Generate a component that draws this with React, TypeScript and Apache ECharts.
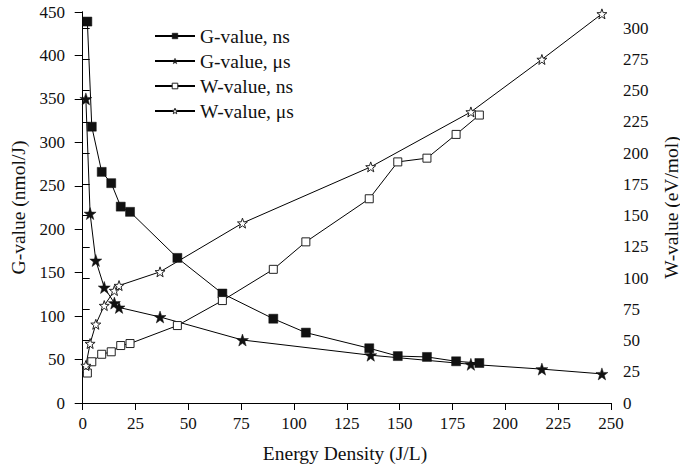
import React, { useEffect, useRef } from "react";
import * as echarts from "echarts";

// Energy density (J/L) for nanosecond and microsecond pulses
const xNs = [2.2, 4.3, 9.0, 13.5, 18, 22.4, 44.8, 66.1, 90.2, 105.6, 135.6, 149.1, 162.9, 176.7, 187.7];
const gNs = [439, 318, 266, 253, 226, 220, 167, 126, 97, 81, 63, 54, 53, 48, 46];
const wNs = [24, 33, 39, 41, 46, 47.6, 62, 82, 107, 129, 163.5, 193, 196, 215, 230.5];

const xUs = [1.5, 3.5, 6.2, 10.2, 15, 17.2, 36.6, 75.6, 136.3, 183.7, 217.3, 245.7];
const gUs = [350, 218, 164, 133, 115, 110, 99, 72.5, 55, 44.5, 39, 33.5];
const wUs = [30, 47.6, 63, 78, 90, 94, 105, 144, 189, 233, 275, 311.5];

const xTicks = [0, 25, 50, 75, 100, 125, 150, 175, 200, 225, 250];
const wTicks = [0, 25, 50, 75, 100, 125, 150, 175, 200, 225, 250, 275, 300];

const seriesNames = ["G-value, ns", "G-value, μs", "W-value, ns", "W-value, μs"];

function starPath(): string {
  const pts: string[] = [];
  for (let i = 0; i < 10; i++) {
    const r = i % 2 === 0 ? 10 : 4;
    const a = -Math.PI / 2 + (i * Math.PI) / 5;
    pts.push(`${(r * Math.cos(a)).toFixed(3)} ${(r * Math.sin(a)).toFixed(3)}`);
  }
  return "path://M" + pts.join(" L") + " Z";
}

const STAR = starPath();
const FONT = "Liberation Serif";

export default function App() {
  const ref = useRef<HTMLDivElement>(null);
  useEffect(() => {
    document.body.style.margin = "0";
    if (!ref.current) return;
    const chart = echarts.init(ref.current, null, { renderer: "svg" });
    const pair = (xs: number[], ys: number[]) => xs.map((x, i) => [x, ys[i]]);
    const lineStyle = { color: "#000", width: 1 };
    const axisLine = { show: true, lineStyle: { color: "#000", width: 1 } };
    const labelStyle = { color: "#111", fontFamily: FONT, fontSize: 17 };
    const nameStyle = { color: "#111", fontFamily: FONT, fontSize: 19.5 };
    const filled = { color: "#111", borderColor: "#111", borderWidth: 0.5 };
    const open = { color: "#fff", borderColor: "#222", borderWidth: 1 };
    chart.setOption({
      animation: false,
      backgroundColor: "#fff",
      grid: { left: 79, right: 69, top: 12, bottom: 67, outerBoundsMode: "none" },
      legend: {
        orient: "vertical",
        left: 149,
        top: 21,
        itemWidth: 40,
        itemHeight: 7,
        itemGap: 5,
        data: [
          { name: seriesNames[0], itemStyle: filled },
          { name: seriesNames[1], itemStyle: filled },
          { name: seriesNames[2], itemStyle: open },
          { name: seriesNames[3], itemStyle: open },
        ],
        textStyle: { color: "#111", fontFamily: FONT, fontSize: 19.5 },
      },
      xAxis: [
        {
          type: "value",
          min: -1.75,
          max: 250,
          name: "Energy Density (J/L)",
          nameLocation: "middle",
          nameGap: 40,
          nameTextStyle: nameStyle,
          axisLine,
          axisTick: { show: true, length: 7, inside: false, customValues: xTicks, lineStyle: { color: "#000" } },
          axisLabel: { ...labelStyle, margin: 12, customValues: xTicks },
          splitLine: { show: false },
        },
        {
          type: "value",
          position: "top",
          min: -1.75,
          max: 250,
          axisLine,
          axisTick: { show: true, length: 6, inside: true, customValues: xTicks, lineStyle: { color: "#000" } },
          axisLabel: { show: false, customValues: xTicks },
          splitLine: { show: false },
        },
      ],
      yAxis: [
        {
          type: "value",
          min: 0,
          max: 450,
          interval: 50,
          name: "G-value (nmol/J)",
          nameLocation: "middle",
          nameRotate: 90,
          nameGap: 42,
          nameTextStyle: nameStyle,
          axisLine,
          axisTick: { show: true, length: 8, inside: false, lineStyle: { color: "#000" } },
          axisLabel: { ...labelStyle, margin: 14 },
          splitLine: { show: false },
        },
        {
          type: "value",
          position: "right",
          min: 0,
          max: 313,
          name: "W-value (eV/mol)",
          nameLocation: "middle",
          nameRotate: 90,
          nameGap: 50,
          nameTextStyle: nameStyle,
          axisLine,
          axisTick: { show: true, length: 7, inside: false, customValues: wTicks, lineStyle: { color: "#000" } },
          axisLabel: { ...labelStyle, margin: 12, customValues: wTicks },
          splitLine: { show: false },
        },
      ],
      series: [
        {
          name: seriesNames[0],
          type: "line",
          xAxisIndex: 0,
          yAxisIndex: 0,
          data: pair(xNs, gNs),
          symbol: "rect",
          symbolSize: 9,
          lineStyle,
          itemStyle: filled,
        },
        {
          name: seriesNames[1],
          type: "line",
          xAxisIndex: 0,
          yAxisIndex: 0,
          data: pair(xUs, gUs),
          symbol: STAR,
          symbolSize: 12,
          lineStyle,
          itemStyle: filled,
        },
        {
          name: seriesNames[2],
          type: "line",
          xAxisIndex: 0,
          yAxisIndex: 1,
          data: pair(xNs, wNs),
          symbol: "rect",
          symbolSize: 8,
          lineStyle,
          itemStyle: open,
        },
        {
          name: seriesNames[3],
          type: "line",
          xAxisIndex: 0,
          yAxisIndex: 1,
          data: pair(xUs, wUs),
          symbol: STAR,
          symbolSize: 10,
          lineStyle,
          itemStyle: open,
        },
      ],
    });
    return () => chart.dispose();
  }, []);
  return <div ref={ref} style={{ width: 680, height: 470 }} />;
}
